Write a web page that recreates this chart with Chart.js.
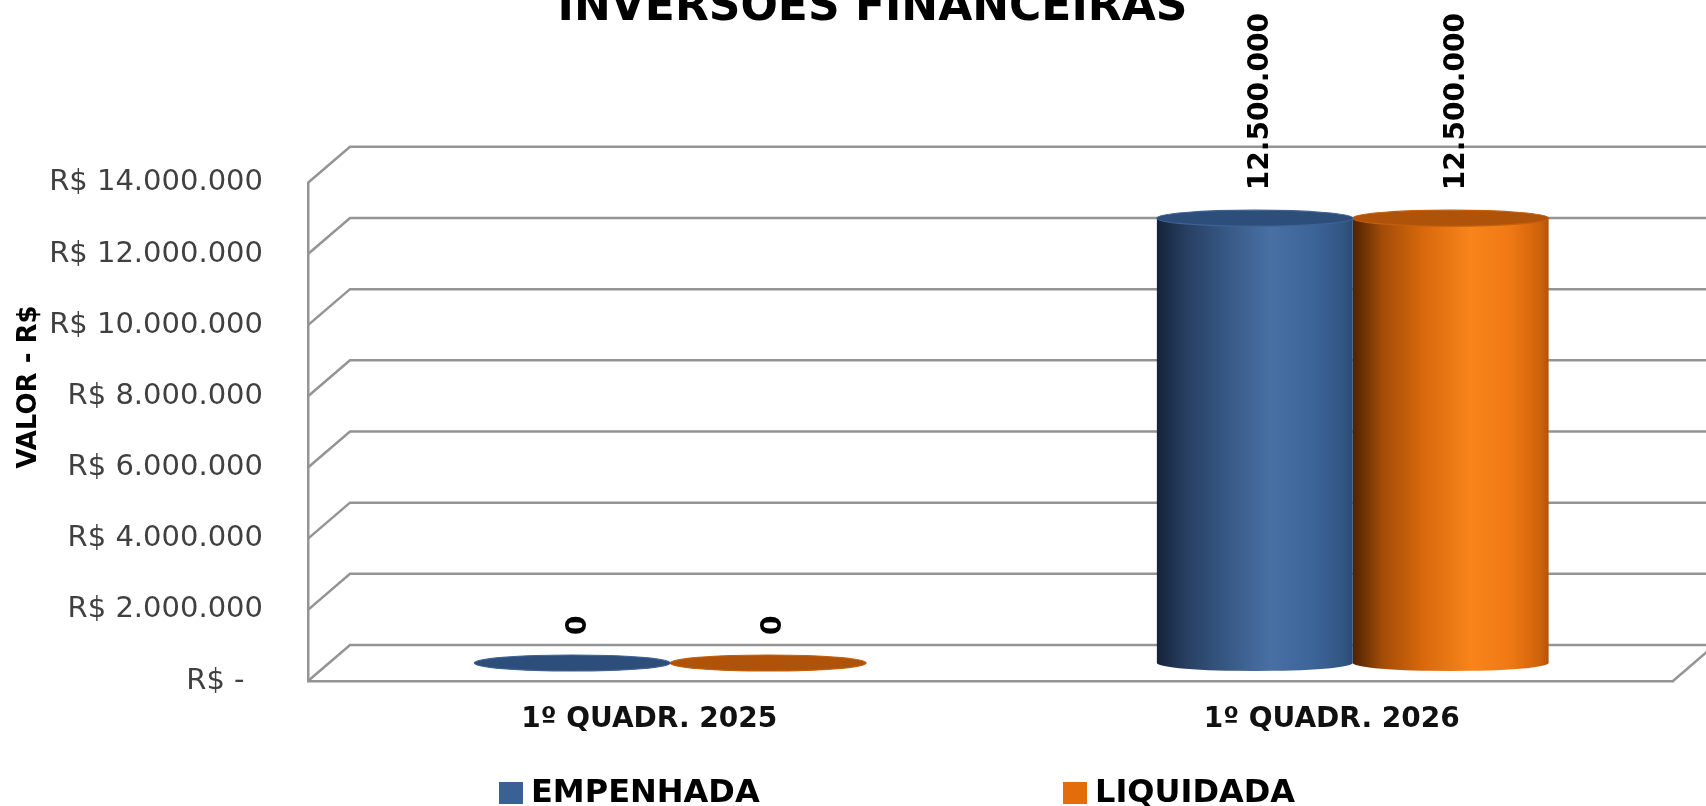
<!DOCTYPE html>
<html><head><meta charset="utf-8">
<script src="https://cdn.jsdelivr.net/npm/chart.js@4.4.1/dist/chart.umd.min.js"></script>
<style>html,body{margin:0;padding:0;background:#fff;overflow:hidden}canvas{display:block}</style>
</head><body>
<canvas id="c" width="1706" height="806"></canvas>
<script>
// ---- data ----
const chartTitle = 'INVERSÕES FINANCEIRAS';
const yAxisTitle = 'VALOR - R$';
const categories = ['1º QUADR. 2025', '1º QUADR. 2026'];
const seriesNames = ['EMPENHADA', 'LIQUIDADA'];
const empenhada = [0, 12500000];
const liquidada = [0, 12500000];
const yMin = 0, yMax = 14000000, yStep = 2000000;

// ---- styles ----
const FONT = "'DejaVu Sans', sans-serif";
const DEPTH = {dx: 42, dy: -36};
const GRID = '#949494';
const RY = 8;
const styles = [
  {main: '#3a6196', top: '#2d4d7b', rim: '#3f6394',
   stops: [[0,'#16223a'],[0.15,'#283f62'],[0.35,'#365884'],[0.58,'#4970a4'],[0.8,'#3c6498'],[0.95,'#325683'],[1,'#2a4a73']]},
  {main: '#e46c0a', top: '#b0530a', rim: '#c45f0c',
   stops: [[0,'#4d2203'],[0.15,'#a24c08'],[0.35,'#d6670c'],[0.6,'#f8841a'],[0.8,'#f07914'],[0.95,'#cf630b'],[1,'#b3550a']]}
];

function fmtBR(v){ return String(Math.round(v)).replace(/\B(?=(\d{3})+(?!\d))/g, '.'); }

const threeD = {
  id: 'threeD',
  afterLayout(chart){
    // let the long y tick labels extend left without being clipped
    const y = chart.scales.y;
    y.left = 0;
    y.width = y.right;
  },
  beforeDatasetsDraw(chart){
    const {ctx, chartArea: a, scales: {y}} = chart;
    ctx.save();
    ctx.strokeStyle = GRID; ctx.lineWidth = 2.5;
    y.ticks.forEach(t => {
      const py = y.getPixelForValue(t.value);
      ctx.beginPath();
      ctx.moveTo(a.left, py);
      ctx.lineTo(a.left + DEPTH.dx, py + DEPTH.dy);
      ctx.lineTo(chart.width + 20, py + DEPTH.dy);
      ctx.stroke();
    });
    ctx.beginPath();
    ctx.moveTo(a.right, a.bottom);
    ctx.lineTo(a.right + DEPTH.dx, a.bottom + DEPTH.dy);
    ctx.stroke();
    ctx.restore();
  },
  beforeDatasetDraw(chart, args){
    const ctx = chart.ctx, st = styles[args.index];
    args.meta.data.forEach(bar => {
      const p = bar.getProps(['x','y','base','width'], true);
      const cx = p.x + DEPTH.dx/2, top = p.y + DEPTH.dy/2, bottom = p.base + DEPTH.dy/2;
      const rx = p.width/2, l = cx - rx, r = cx + rx;
      const g = ctx.createLinearGradient(l, 0, r, 0);
      st.stops.forEach(s => g.addColorStop(s[0], s[1]));
      ctx.save();
      ctx.fillStyle = g;
      ctx.beginPath();
      ctx.moveTo(r, top);
      ctx.lineTo(r, bottom);
      ctx.ellipse(cx, bottom, rx, RY, 0, 0, Math.PI, false);
      ctx.lineTo(l, top);
      ctx.closePath();
      ctx.fill();
      ctx.beginPath();
      ctx.ellipse(cx, top, rx, RY, 0, 0, Math.PI*2);
      ctx.fillStyle = st.top;
      ctx.fill();
      ctx.lineWidth = 1.2; ctx.strokeStyle = st.rim; ctx.stroke();
      ctx.restore();
    });
    return false;
  },
  afterDatasetsDraw(chart){
    const ctx = chart.ctx;
    chart.data.datasets.forEach((ds, i) => {
      chart.getDatasetMeta(i).data.forEach((bar, j) => {
        const cx = bar.x + DEPTH.dx/2 + 6;
        const ty = bar.y + DEPTH.dy/2 - RY - 20;
        ctx.save();
        ctx.translate(cx, ty);
        ctx.rotate(-Math.PI/2);
        ctx.font = 'bold 28px ' + FONT;
        ctx.fillStyle = '#000';
        ctx.textAlign = 'left'; ctx.textBaseline = 'middle';
        ctx.fillText(fmtBR(ds.data[j]), 0, 0);
        ctx.restore();
      });
    });
  },
  afterDraw(chart){
    const ctx = chart.ctx;
    // y axis title
    ctx.save();
    ctx.translate(29, 387);
    ctx.rotate(-Math.PI/2);
    ctx.font = 'bold 26px ' + FONT;
    ctx.fillStyle = '#000';
    ctx.textAlign = 'center'; ctx.textBaseline = 'middle';
    ctx.fillText(yAxisTitle, 0, 0);
    ctx.restore();
    // legend
    const pos = [499, 1063];
    chart.data.datasets.forEach((ds, i) => {
      ctx.save();
      ctx.fillStyle = ds.backgroundColor;
      ctx.fillRect(pos[i], 782, 24, 22);
      ctx.font = 'bold 32px ' + FONT;
      ctx.fillStyle = '#000';
      ctx.textAlign = 'left'; ctx.textBaseline = 'middle';
      ctx.fillText(ds.label, pos[i] + 32, 794);
      ctx.restore();
    });
  }
};

new Chart(document.getElementById('c'), {
  type: 'bar',
  data: {
    labels: categories,
    datasets: [
      {label: seriesNames[0], data: empenhada, backgroundColor: styles[0].main},
      {label: seriesNames[1], data: liquidada, backgroundColor: styles[1].main}
    ]
  },
  options: {
    responsive: false,
    animation: false,
    devicePixelRatio: 1,
    categoryPercentage: 0.574,
    barPercentage: 1,
    layout: {padding: {left: 72, right: 33, top: 0, bottom: 65}},
    plugins: {
      legend: {display: false},
      tooltip: {enabled: false},
      title: {display: true, text: chartTitle, color: '#000',
        font: {family: FONT, size: 44, weight: 'bold'},
        padding: {top: -18, bottom: 148}}
    },
    scales: {
      x: {
        grid: {display: false, drawTicks: false},
        border: {display: true, color: GRID, width: 2.5},
        ticks: {padding: 22, color: '#111', font: {family: FONT, size: 28, weight: 'bold'}},
        afterFit(s){ s.height = 60; }
      },
      y: {
        min: yMin, max: yMax,
        grid: {display: false, drawTicks: false},
        border: {display: true, color: GRID, width: 2.5},
        ticks: {stepSize: yStep, padding: 45, color: '#404040',
          font: {family: FONT, size: 29},
          callback: v => v === 0 ? 'R$ -  ' : 'R$ ' + fmtBR(v)},
        afterFit(s){ s.width = 236; }
      }
    }
  },
  plugins: [threeD]
});
</script>
</body></html>
